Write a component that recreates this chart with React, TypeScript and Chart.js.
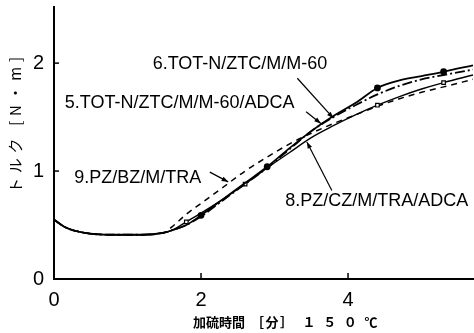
import React, { useEffect, useRef } from "react";
import { Chart, registerables } from "chart.js";
Chart.register(...registerables);

// Cure time [min] at 150°C
const times = [0, 0.15, 0.4, 0.8, 1.2, 1.5, 1.6, 1.8, 2.0, 2.3, 2.6, 2.9, 3.2, 3.5, 3.8, 4.1, 4.4, 4.7, 5.0, 5.3, 5.7];
// Torque [N·m]
const torque6 = [0.55, 0.48, 0.43, 0.41, 0.41, 0.43, 0.45, 0.50, 0.59, 0.74, 0.89, 1.04, 1.21, 1.37, 1.51, 1.63, 1.77, 1.84, 1.88, 1.92, 1.98];
const torque5 = [0.55, 0.48, 0.43, 0.41, 0.41, 0.43, 0.45, 0.50, 0.58, 0.73, 0.88, 1.03, 1.20, 1.37, 1.50, 1.61, 1.71, 1.79, 1.85, 1.89, 1.94];
const torque8 = [0.55, 0.48, 0.43, 0.41, 0.41, 0.43, 0.45, 0.53, 0.61, 0.74, 0.88, 1.03, 1.17, 1.31, 1.42, 1.52, 1.61, 1.69, 1.76, 1.82, 1.89];
const torque9 = [0.55, 0.48, 0.43, 0.41, 0.41, 0.43, 0.48, 0.60, 0.70, 0.85, 1.00, 1.13, 1.25, 1.35, 1.44, 1.52, 1.60, 1.67, 1.73, 1.78, 1.85];

const markers6 = [2.0, 2.9, 4.4, 5.3];
const markers8 = [1.8, 2.6, 4.4, 5.3];

const xTicks = [0, 2, 4];
const yTicks = [0, 1, 2];

const seriesLabels = [
  "6.TOT-N/ZTC/M/M-60",
  "5.TOT-N/ZTC/M/M-60/ADCA",
  "8.PZ/CZ/M/TRA/ADCA",
  "9.PZ/BZ/M/TRA",
];
const xTitleParts = ["加硫時間", "［分］", "１５０℃"];
const yTitle = "トルク [N・m]";

// annotation placement in data coordinates: label centre, leader start, leader tip
const annotations = [
  { text: seriesLabels[0], at: [2.53, 1.99], from: [3.31, 1.86], to: [3.80, 1.49] },
  { text: seriesLabels[1], at: [1.71, 1.63], from: [3.43, 1.55], to: [3.63, 1.44] },
  { text: seriesLabels[3], at: [1.14, 0.94], from: [2.12, 0.99], to: [2.37, 0.90] },
  { text: seriesLabels[2], at: [4.39, 0.72], from: [3.78, 0.82], to: [3.44, 1.27] },
];

// x-title segment layout (centre x, width) in pixels
const xTitleLayout = [
  [219, 52],
  [272, 42],
  [340, 75],
];

const pts = (ys: number[]) => times.map((t, i) => ({ x: t, y: ys[i] }));

const drawSpaced = (ctx: CanvasRenderingContext2D, text: string, x: number, y: number, width: number) => {
  const chars = Array.from(text);
  const widths = chars.map((c) => ctx.measureText(c).width);
  const total = widths.reduce((a, b) => a + b, 0);
  const gap = chars.length > 1 ? (width - total) / (chars.length - 1) : 0;
  let cx = x - width / 2;
  ctx.textAlign = "left";
  chars.forEach((c, i) => {
    ctx.fillText(c, cx, y);
    cx += widths[i] + gap;
  });
};

const decorPlugin = {
  id: "decor",
  afterDraw(chart: any) {
    const { ctx, chartArea, scales } = chart;
    const xs = scales.x;
    const ys = scales.y;
    ctx.save();
    ctx.strokeStyle = "#000";
    ctx.fillStyle = "#000";
    ctx.lineWidth = 1.5;
    // inward tick marks
    xTicks.filter((v) => v > 0).forEach((v) => {
      const px = xs.getPixelForValue(v);
      ctx.beginPath();
      ctx.moveTo(px, chartArea.bottom);
      ctx.lineTo(px, chartArea.bottom - 6);
      ctx.stroke();
    });
    yTicks.filter((v) => v > 0).forEach((v) => {
      const py = ys.getPixelForValue(v);
      ctx.beginPath();
      ctx.moveTo(chartArea.left, py);
      ctx.lineTo(chartArea.left + 5, py);
      ctx.stroke();
    });
    // annotations
    ctx.font = "18px 'Liberation Sans', Arial, sans-serif";
    ctx.textAlign = "center";
    ctx.textBaseline = "middle";
    annotations.forEach((a) => {
      const lx = xs.getPixelForValue(a.at[0]);
      const ly = ys.getPixelForValue(a.at[1]);
      ctx.textAlign = "center";
      ctx.fillText(a.text, lx, ly);
      const x1 = xs.getPixelForValue(a.from[0]);
      const y1 = ys.getPixelForValue(a.from[1]);
      const x2 = xs.getPixelForValue(a.to[0]);
      const y2 = ys.getPixelForValue(a.to[1]);
      ctx.lineWidth = 1.2;
      ctx.beginPath();
      ctx.moveTo(x1, y1);
      ctx.lineTo(x2, y2);
      ctx.stroke();
      const ang = Math.atan2(y2 - y1, x2 - x1);
      const L = 7;
      ctx.beginPath();
      ctx.moveTo(x2, y2);
      ctx.lineTo(x2 - L * Math.cos(ang - 0.35), y2 - L * Math.sin(ang - 0.35));
      ctx.lineTo(x2 - L * Math.cos(ang + 0.35), y2 - L * Math.sin(ang + 0.35));
      ctx.closePath();
      ctx.fill();
    });
    // axis titles
    ctx.textBaseline = "middle";
    ctx.font = "bold 13px 'Noto Sans CJK JP', sans-serif";
    xTitleParts.forEach((p, i) => drawSpaced(ctx, p, xTitleLayout[i][0], 322, xTitleLayout[i][1]));
    ctx.save();
    ctx.translate(15, 125);
    ctx.rotate(-Math.PI / 2);
    ctx.font = "15px 'Noto Sans CJK JP', sans-serif";
    drawSpaced(ctx, yTitle, 0, 0, 136);
    ctx.restore();
    ctx.restore();
  },
};

export default function App() {
  const ref = useRef<HTMLCanvasElement | null>(null);
  useEffect(() => {
    if (!ref.current) return;
    const tickFont = { family: "'Liberation Sans', Arial, sans-serif", size: 20 };
    const chart = new Chart(ref.current, {
      type: "line",
      data: {
        datasets: [
          {
            label: seriesLabels[0],
            data: pts(torque6),
            borderColor: "#000",
            borderWidth: 1.8,
            cubicInterpolationMode: "monotone",
            pointRadius: (c: any) => (markers6.includes(times[c.dataIndex]) ? 2.5 : 0),
            pointStyle: "circle",
            pointBackgroundColor: "#000",
            pointBorderColor: "#000",
          },
          {
            label: seriesLabels[1],
            data: pts(torque5),
            borderColor: "#000",
            borderWidth: 1.8,
            borderDash: [10, 3, 2, 3],
            cubicInterpolationMode: "monotone",
            pointRadius: 0,
          },
          {
            label: seriesLabels[2],
            data: pts(torque8),
            borderColor: "#000",
            borderWidth: 1.4,
            cubicInterpolationMode: "monotone",
            pointRadius: (c: any) => (markers8.includes(times[c.dataIndex]) ? 2.5 : 0),
            pointStyle: "rect",
            pointBackgroundColor: "#fff",
            pointBorderColor: "#000",
            pointBorderWidth: 1.2,
          },
          {
            label: seriesLabels[3],
            data: pts(torque9),
            borderColor: "#000",
            borderWidth: 1.5,
            borderDash: [6, 5],
            cubicInterpolationMode: "monotone",
            pointRadius: 0,
          },
        ],
      },
      options: {
        responsive: false,
        animation: false,
        layout: { padding: { top: 7, right: 1, left: 0, bottom: 0 } },
        plugins: { legend: { display: false }, tooltip: { enabled: false } },
        scales: {
          x: {
            type: "linear",
            min: 0,
            max: 5.7,
            grid: { display: false, drawTicks: false },
            border: { display: true, color: "#000", width: 2 },
            ticks: { stepSize: 2, includeBounds: false, color: "#000", font: tickFont, padding: 9, maxRotation: 0 },
            afterFit: (s: any) => {
              s.height = 54;
              s.paddingLeft = 0;
              s.paddingRight = 0;
            },
          },
          y: {
            min: 0,
            max: 2.52,
            grid: { display: false, drawTicks: false },
            border: { display: true, color: "#000", width: 2 },
            ticks: { stepSize: 1, includeBounds: false, color: "#000", font: tickFont, padding: 10 },
            afterFit: (s: any) => {
              s.width = 54;
              s.paddingTop = 0;
              s.paddingBottom = 0;
            },
          },
        },
      },
      plugins: [decorPlugin],
    } as any);
    return () => chart.destroy();
  }, []);
  return (
    <div style={{ position: "fixed", left: 0, top: 0, width: 474, height: 333, background: "#fff" }}>
      <canvas ref={ref} width={474} height={333} style={{ display: "block" }} />
    </div>
  );
}
